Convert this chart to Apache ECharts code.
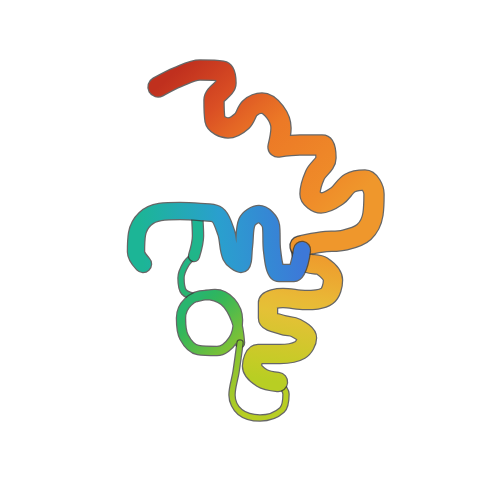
<!DOCTYPE html>
<html>
<head>
<meta charset="utf-8">
<script src="https://cdn.jsdelivr.net/npm/echarts@6/dist/echarts.min.js"></script>
<style>
html, body { margin: 0; padding: 0; background: #fff; }
#chart { width: 500px; height: 500px; }
</style>
</head>
<body>
<div id="chart"></div>
<script>
// backbone trace, N -> C, in picture coordinates (x right, y down)
var helixA = [[302,250],[294,273],[279,273],[272,250],[271,226],[259,214],[247,222],[244,246],[241,264],[231,256],[226,232],[216,214],[200,212],[180,211],[160,212],[145,219],[137,234],[136,252],[143,264]];
var strandB = [[197,214],[198,236],[194,256]];
var loopC = [[194,256],[186,264],[181,278],[184,292],[197,297]];
var circleD = [[197,297],[215,294],[231,302],[238,320],[233,340],[217,351],[198,350],[184,337],[181,318],[188,302],[205,295],[224,301],[236,320],[240,343]];
var loopE = [[240,343],[236,372],[232,395],[240,412],[260,418],[282,410],[286,394],[278,382]];
var helixF = [[278,382],[262,378],[252,366],[258,354],[280,354],[300,350],[307,338],[296,328],[283,325],[268,318],[268,303],[283,298],[305,300],[327,296],[333,280],[322,266],[306,262],[300,246]];
var helixG = [[300,246],[322,242],[345,240],[364,232],[373,214],[374,194],[365,180],[350,183],[337,196],[321,203],[310,194],[315,175],[326,158],[322,145],[300,145],[278,147],[281,128],[275,112],[262,103],[250,108],[242,121],[228,128],[215,120],[214,100],[226,83],[222,71],[200,70],[178,77],[158,87]];

// spectrum blue -> red along the chain
var paletteAt = [0, 0.1, 0.2, 0.3, 0.42, 0.5, 0.6, 0.7, 0.85, 0.93, 1];
var palette = ['#3d78d8','#2a9fcf','#1cb597','#2eb55c','#86c232','#bccf22','#e8bf38','#f0902a','#ec7826','#d84a24','#c0301e'];

function hex(c) {
    return [parseInt(c.substr(1,2),16), parseInt(c.substr(3,2),16), parseInt(c.substr(5,2),16)];
}
function colorAt(t) {
    t = Math.max(0, Math.min(1, t));
    var i = 0;
    while (i < paletteAt.length - 2 && t > paletteAt[i + 1]) i++;
    var f = (t - paletteAt[i]) / (paletteAt[i + 1] - paletteAt[i]);
    var a = hex(palette[i]), b = hex(palette[i + 1]);
    return 'rgb(' + Math.round(a[0] + (b[0] - a[0]) * f) + ',' + Math.round(a[1] + (b[1] - a[1]) * f) + ',' + Math.round(a[2] + (b[2] - a[2]) * f) + ')';
}

// chain order with ribbon widths
var chain = [
    {name: 'helixA', pts: helixA, w: 16},
    {name: 'strandB', pts: strandB, w: 10},
    {name: 'loopC', pts: loopC, w: 5},
    {name: 'circleD', pts: circleD, w: 8},
    {name: 'loopE', pts: loopE, w: 5},
    {name: 'helixF', pts: helixF, w: 18},
    {name: 'helixG', pts: helixG, w: 19}
];
// painting order (back to front)
var drawOrder = ['loopC', 'strandB', 'circleD', 'loopE', 'helixF', 'helixG', 'helixA'];

var total = 0;
chain.forEach(function (c) { total += c.pts.length - 1; });
var acc = 0;
chain.forEach(function (c) {
    c.t0 = acc / total;
    acc += c.pts.length - 1;
    c.t1 = acc / total;
});

var series = [];
drawOrder.forEach(function (n, k) {
    var c = chain.filter(function (e) { return e.name === n; })[0];
    var first = c.pts[0], last = c.pts[c.pts.length - 1];
    var stops = [];
    for (var s = 0; s <= 8; s++) {
        stops.push({offset: s / 8, color: colorAt(c.t0 + (c.t1 - c.t0) * s / 8)});
    }
    series.push({
        type: 'line', data: c.pts, symbol: 'none', smooth: 0.35, z: 2 + k * 2, silent: true,
        lineStyle: {width: c.w + 2.5, color: '#333', opacity: 0.75, cap: 'round', join: 'round'}
    });
    series.push({
        type: 'line', data: c.pts, symbol: 'none', smooth: 0.35, z: 3 + k * 2, silent: true,
        lineStyle: {
            width: c.w, cap: 'round', join: 'round',
            color: {type: 'linear', x: first[0], y: first[1], x2: last[0], y2: last[1], global: true, colorStops: stops}
        }
    });
});

var chart = echarts.init(document.getElementById('chart'));
chart.setOption({
    animation: false,
    backgroundColor: '#ffffff',
    grid: {left: 0, right: 0, top: 0, bottom: 0},
    xAxis: {type: 'value', min: 0, max: 500, show: false},
    yAxis: {type: 'value', min: 0, max: 500, inverse: true, show: false},
    series: series
});
</script>
</body>
</html>
